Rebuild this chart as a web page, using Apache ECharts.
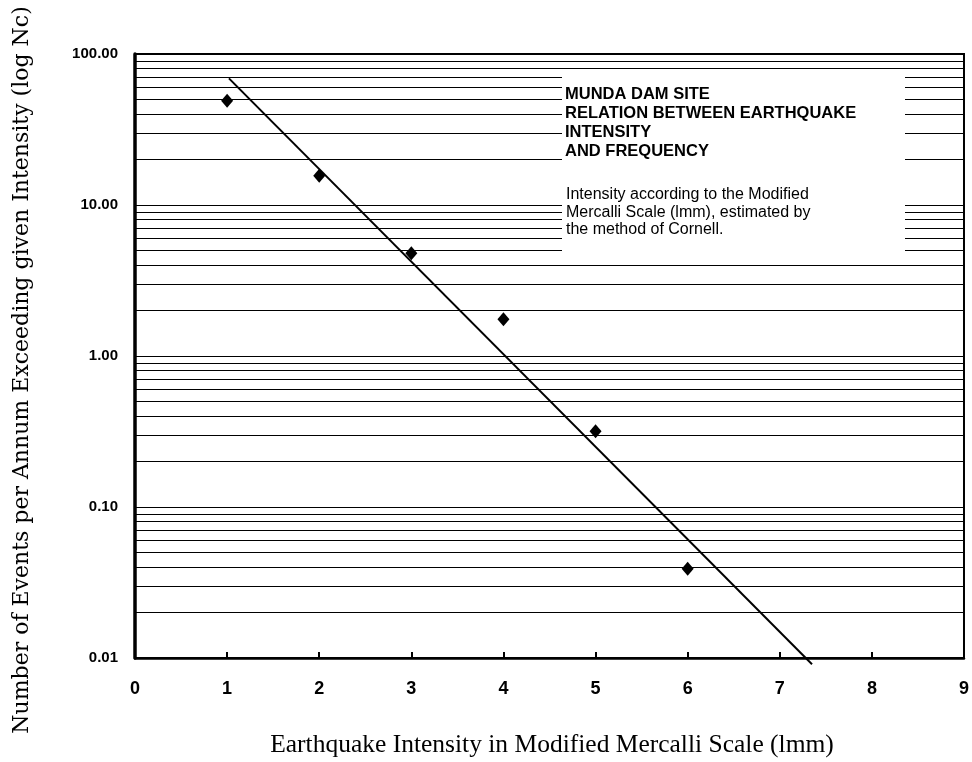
<!DOCTYPE html>
<html>
<head>
<meta charset="utf-8">
<script src="https://cdn.jsdelivr.net/npm/echarts@6/dist/echarts.min.js"></script>
<style>
html,body{margin:0;padding:0;background:#fff;}
#chart{width:972px;height:762px;}
</style>
</head>
<body>
<div id="chart"></div>
<script>
// ---- data ----
var intensity = [1, 2, 3, 4, 5, 6];
var eventsPerAnnum = [49, 15.6, 4.8, 1.75, 0.317, 0.039];
var fitX = [1.02, 7.35];
var fitY = [69, 0.0091];
var gridMultipliers = [1, 2, 3, 4, 5, 6, 7, 8, 9];
var gridDecades = [0.01, 0.1, 1, 10];
var xTicks = [0, 1, 2, 3, 4, 5, 6, 7, 8, 9];
var titleLines = ['MUNDA DAM SITE', 'RELATION BETWEEN EARTHQUAKE', 'INTENSITY', 'AND FREQUENCY'];
var noteLines = ['Intensity according to the Modified', 'Mercalli Scale (lmm), estimated by', 'the method of Cornell.'];
var xTitle = 'Earthquake Intensity in Modified Mercalli Scale (lmm)';
var yTitle = 'Number of Events per Annum Exceeding given Intensity (log Nc)';

// ---- build ----
var gridValues = [];
gridDecades.forEach(function (d) {
  gridMultipliers.forEach(function (m) { gridValues.push(+(m * d).toPrecision(3)); });
});
gridValues.push(100);

var chart = echarts.init(document.getElementById('chart'));
var graphics = [
  { type: 'rect', shape: { x: 562, y: 72, width: 343, height: 187 }, style: { fill: '#fff' }, z: 10 }
];
titleLines.forEach(function (t, i) {
  graphics.push({ type: 'text', x: 565, y: 94 + i * 19.3, z: 11,
    style: { text: t, fill: '#000', font: 'bold 16.5px "Liberation Sans", Arial, sans-serif', textVerticalAlign: 'middle' } });
});
noteLines.forEach(function (t, i) {
  graphics.push({ type: 'text', x: 566, y: 195 + i * 17.5, z: 11,
    style: { text: t, fill: '#000', font: '16px "Liberation Sans", Arial, sans-serif', textVerticalAlign: 'middle' } });
});
graphics.push({ type: 'text', x: 552, y: 745, z: 11,
  style: { text: xTitle, fill: '#000', font: '25.5px "Liberation Serif", "Times New Roman", serif', textAlign: 'center', textVerticalAlign: 'middle' } });
graphics.push({ type: 'text', x: 22, y: 370, rotation: Math.PI / 2, z: 11,
  style: { text: yTitle, fill: '#000', font: '22px "DejaVu Serif", serif', textAlign: 'center', textVerticalAlign: 'middle' } });

chart.setOption({
  animation: false,
  backgroundColor: '#fff',
  grid: { left: 135, right: 7, top: 54, bottom: 104, show: true, borderColor: '#000', borderWidth: 2 },
  xAxis: {
    type: 'value', min: 0, max: 9, interval: 1,
    axisLine: { show: true, lineStyle: { color: '#000', width: 2.5 } },
    axisTick: { show: true, inside: true, length: 6, lineStyle: { color: '#000', width: 2 } },
    splitLine: { show: false },
    axisLabel: { color: '#000', fontSize: 18, fontWeight: 'bold', margin: 22,
      fontFamily: '"Liberation Sans Narrow", "Liberation Sans", Arial, sans-serif' }
  },
  yAxis: {
    type: 'log', logBase: 10, min: 0.01, max: 100,
    axisLine: { show: true, lineStyle: { color: '#000', width: 3.5 } },
    axisTick: { show: false },
    splitLine: { show: false },
    axisLabel: { color: '#000', fontSize: 15, fontWeight: 'bold', margin: 17,
      fontFamily: '"Liberation Sans", Arial, sans-serif',
      formatter: function (v) { return Number(v).toFixed(2); } }
  },
  series: [
    {
      type: 'line', data: [], silent: true,
      markLine: {
        silent: true, symbol: ['none', 'none'], animation: false,
        label: { show: false },
        lineStyle: { color: '#000', width: 1.2, type: 'solid' },
        data: gridValues.map(function (v) { return { yAxis: v }; })
      }
    },
    {
      type: 'line', silent: true, clip: false, symbol: 'none',
      lineStyle: { color: '#000', width: 2 },
      data: fitX.map(function (x, i) { return [x, fitY[i]]; }),
      z: 5
    },
    {
      type: 'scatter', symbol: 'diamond', symbolSize: [12, 14],
      itemStyle: { color: '#000', opacity: 1 },
      data: intensity.map(function (x, i) { return [x, eventsPerAnnum[i]]; }),
      z: 6
    }
  ],
  graphic: graphics
});
</script>
</body>
</html>
